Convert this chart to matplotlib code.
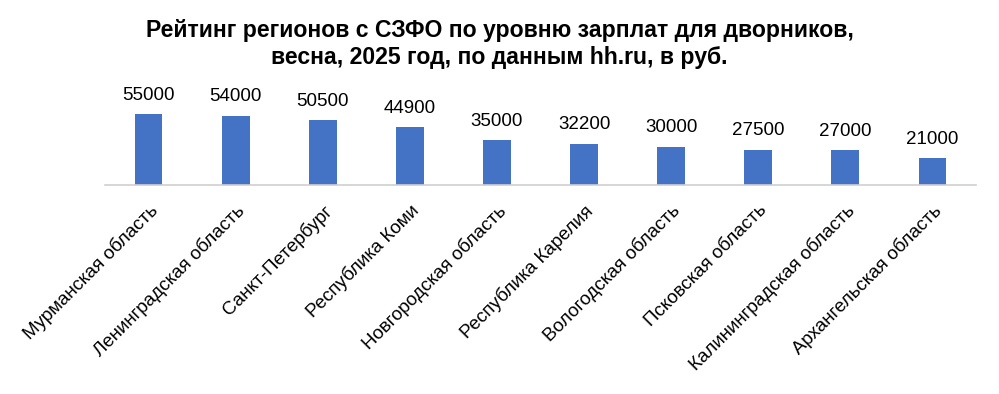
import matplotlib
matplotlib.use('Agg')
import matplotlib.pyplot as plt

plt.rcParams['font.family'] = ['Liberation Sans', 'DejaVu Sans']

regions = ['Мурманская область', 'Ленинградская область', 'Санкт-Петербург',
           'Республика Коми', 'Новгородская область', 'Республика Карелия',
           'Вологодская область', 'Псковская область', 'Калининградская область',
           'Архангельская область']
salaries = [55000, 54000, 50500, 44900, 35000, 32200, 30000, 27500, 27000, 21000]

fig = plt.figure(figsize=(9.99, 3.94), dpi=100)
ax = fig.add_axes([105 / 999, 1 - 185 / 394, 871 / 999, 77 / 394])

x = range(len(regions))
bars = ax.bar(x, salaries, width=0.32, color='#4472C4')
for b, v in zip(bars, salaries):
    ax.text(b.get_x() + b.get_width() / 2, v + 8000, str(v),
            ha='center', va='bottom', fontsize=13.5)

ax.set_xlim(-0.5, len(regions) - 0.5)
ax.set_ylim(0, 60000)
ax.set_yticks([])
ax.set_xticks(list(x))
ax.set_xticklabels(regions, rotation=45, ha='right', rotation_mode='anchor', fontsize=13.5)
ax.tick_params(axis='x', length=0, pad=12)
for s in ['top', 'right', 'left']:
    ax.spines[s].set_visible(False)
ax.spines['bottom'].set_color('#d0d0d0')
ax.spines['bottom'].set_linewidth(1.2)

fig.text(0.5, 1 - 44 / 394,
         'Рейтинг регионов с СЗФО по уровню зарплат для дворников,\n'
         'весна, 2025 год, по данным hh.ru, в руб.',
         ha='center', va='center', fontsize=16.6, fontweight='bold', linespacing=1.25)

fig.savefig('out.png', dpi=100)
